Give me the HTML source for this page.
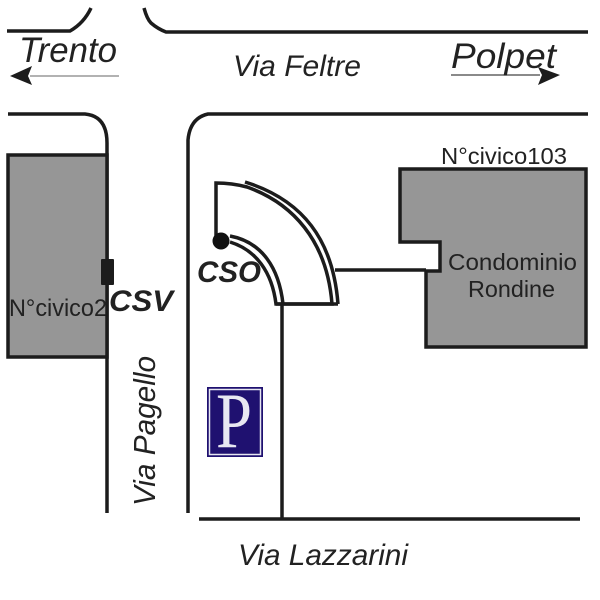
<!DOCTYPE html>
<html>
<head>
<meta charset="utf-8">
<style>
html,body{margin:0;padding:0;background:#fff;}
svg{display:block;}
text{font-family:"Liberation Sans",sans-serif;fill:#222;}
</style>
</head>
<body>
<svg width="600" height="600" viewBox="0 0 600 600" xmlns="http://www.w3.org/2000/svg">
<g fill="none" stroke="#1c1c1c" stroke-width="3.500">
  <path d="M7 31H70Q84 23 91 8"/>
  <path d="M144 8Q147 19 151 23Q158 29 166 32H588"/>
  <path d="M8 114H85Q107 116 107 143V513" />
  <path d="M188 513V140Q190 118 208 114H588"/>
  <path d="M199 519H580"/>
  <path d="M282 304V519"/>
  <path d="M335 270H426"/>
</g>
<rect x="8" y="155" width="99" height="202" fill="#969696" stroke="#1c1c1c" stroke-width="3.500"/>
<path d="M400 169H586V347H426V271H440V242H400Z" fill="#969696" stroke="#1c1c1c" stroke-width="3.500"/>
<rect x="101" y="259" width="13" height="26" rx="1" fill="#1c1c1c"/>

<g fill="none" stroke="#1c1c1c">
  <path d="M216 240V183Q232 183 247 187C292 203 327 240 332 304H276C272 272 256 250 230 242" stroke-width="3.500"/>
  <path d="M245 182C303 200 333 240 338 304" stroke-width="3.500"/>
  <path d="M230 236C262 242 279 268 283 304" stroke-width="3.500"/>
  <path d="M276 304H338" stroke-width="3.500"/>
</g>
<circle cx="221" cy="241" r="8.500" fill="#111"/>

<path d="M30 76H119" stroke="#999" stroke-width="1.500"/>
<path d="M10 76L32 66L28 76L32 85Z" fill="#1c1c1c"/>
<path d="M451 75H540" stroke="#444" stroke-width="1.200"/>
<path d="M560 75L538 67L542 75L538 85Z" fill="#1c1c1c"/>

<text x="19" y="62" font-size="35" font-style="italic" textLength="98" lengthAdjust="spacingAndGlyphs">Trento</text>
<text x="451" y="68" font-size="35" font-style="italic" textLength="105" lengthAdjust="spacingAndGlyphs">Polpet</text>
<text x="233" y="76" font-size="30" font-style="italic" fill="#333" textLength="128" lengthAdjust="spacingAndGlyphs">Via Feltre</text>
<text x="238" y="565" font-size="30" font-style="italic" textLength="170" lengthAdjust="spacingAndGlyphs">Via Lazzarini</text>
<text transform="translate(155,506) rotate(-90)" x="0" y="0" font-size="31" font-style="italic" fill="#333" textLength="150" lengthAdjust="spacingAndGlyphs">Via Pagello</text>
<text x="441" y="164" font-size="23" textLength="126" lengthAdjust="spacingAndGlyphs">N°civico103</text>
<text x="448" y="270" font-size="23" textLength="129" lengthAdjust="spacingAndGlyphs">Condominio</text>
<text x="468" y="297" font-size="23" textLength="87" lengthAdjust="spacingAndGlyphs">Rondine</text>
<text x="9" y="316" font-size="24" textLength="98" lengthAdjust="spacingAndGlyphs">N°civico2</text>
<text x="109" y="311" font-size="30" font-weight="bold" font-style="italic" fill="#111" textLength="64" lengthAdjust="spacingAndGlyphs">CSV</text>
<text x="197" y="282" font-size="30" font-weight="bold" font-style="italic" fill="#111" textLength="64" lengthAdjust="spacingAndGlyphs">CSO</text>

<rect x="207" y="387" width="56" height="70" fill="#1f1170"/>
<rect x="209.500" y="389.500" width="51" height="65" fill="none" stroke="#e6e6f0" stroke-width="1.500"/>
<text x="216" y="447" font-size="78" style="font-family:'Liberation Serif',serif;fill:#e8e8f2" textLength="36" lengthAdjust="spacingAndGlyphs">P</text>
</svg>
</body>
</html>
